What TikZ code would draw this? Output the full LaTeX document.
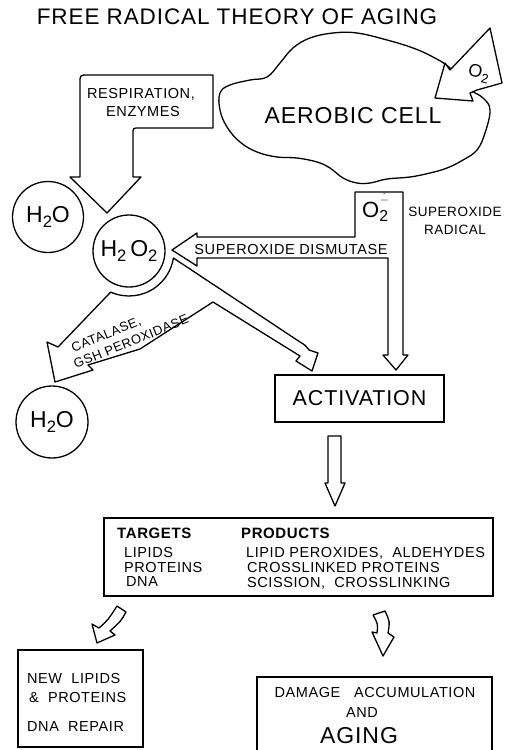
\documentclass[tikz,border=0pt]{standalone}
\usepackage{graphicx}
\usepackage{fontspec}
\setmainfont{Liberation Sans}[LetterSpace=4]
\newcommand{\fsz}[1]{\fontsize{#1}{#1}\selectfont}
\newcommand{\lowtwo}{\raisebox{-0.35ex}{\scalebox{0.72}{2}}}
\begin{document}
\begin{tikzpicture}[x=1pt,y=-1pt,
  blk/.style={draw,fill=white,line width=1.3pt,line join=round},
  txt/.style={inner sep=0pt,text depth=0pt,font=\fsz{14.5}},
  circ/.style={draw,circle,line width=1.3pt,fill=white,inner sep=0pt,minimum size=71pt,font=\fsz{23}},
  boxn/.style={draw,line width=1.3pt,inner sep=0pt}]
\useasboundingbox (0,0) rectangle (509,750);

% title
\node[txt,font=\fsz{22.5}] (title) at (237,17) {FREE RADICAL THEORY OF AGING};

% cloud
\draw[blk] plot[smooth cycle,tension=0.65] coordinates {(220,93) (230,85) (250,80) (267,77) (280,63) (293,48) (310,38) (333,33) (357,33) (387,40) (413,48) (433,57) (450,68) (468,88) (483,98) (490,110) (485,133) (477,150) (463,160) (447,168) (430,173) (410,177) (387,179) (370,183) (357,183) (343,178) (330,168) (317,162) (297,158) (277,157) (257,152) (240,142) (227,127) (220,110)};
\node[txt,font=\fsz{23}] (cell) at (353,115) {AEROBIC CELL};

% O2 arrow into the cell
\draw[blk] (490,28) -- (450,70) -- (445,63) -- (435,98) -- (473,101) -- (470,93) -- (477,90) -- (502,83) -- cycle;
\node[txt,font=\fsz{18},rotate=-12] (otwo) at (479,72) {O\lowtwo};

% respiration arrow
\draw[blk] (213,75) -- (213,128) -- (139,128) .. controls (133,128) .. (133,134) -- (133,177) -- (141,177) -- (107,213) -- (70,177) -- (80,177) -- (80,83) .. controls (80,75) .. (88,75) -- cycle;
\node[txt] (resp1) at (141,93) {RESPIRATION,};
\node[txt] (resp2) at (143,111) {ENZYMES};

% superoxide shape
\draw[blk] (355,192) -- (403,192) -- (403,355) -- (408,355) -- (396,370) -- (383,355) -- (388,355) -- (388,258) -- (197,258) -- (197,266) -- (172,250) -- (197,233) -- (197,237) -- (355,237) -- cycle;
\node[inner sep=0pt,font=\fsz{22},anchor=base west] (supo) at (362,217.5) {O\lowtwo\kern-8.5pt\raisebox{14.5pt}{\fsz{12}$\dot{-}$}};
\node[txt,font=\fsz{13.5}] (sr1) at (455,212) {SUPEROXIDE};
\node[txt,font=\fsz{13.5}] (sr2) at (455,230) {RADICAL};
\node[txt] (sod) at (291,249) {SUPEROXIDE DISMUTASE};

% H2O2 split arrows
\draw[blk] ([shift={(129,251)}]9:45) -- (300,342) .. controls (305,345) .. (309,350) -- (318,353) -- (312,371) -- (296,361) -- (300,356) -- (213,302) -- (140,349) -- (88,365) -- (93,370) -- (55,382) -- (47,342) -- (58,347) -- ([shift={(129,251)}]114:45) arc[start angle=114,end angle=9,radius=45] -- cycle;
\node[txt,rotate=22,align=left,font=\fsz{13}] (cat) at (128,334) {\hspace{4pt}CATALASE,\\[3pt]GSH PEROXIDASE};

% circles
\node[circ] (w1) at (48,217) {H\lowtwo O};
\node[circ,minimum size=72pt] (hp) at (129,251) {H\lowtwo\,O\lowtwo};
\node[circ,minimum size=72pt] (w2) at (52,422) {H\lowtwo O};

% activation
\node[boxn,minimum width=169pt,minimum height=47pt,font=\fsz{21.5}] (act) at (359.5,398.5) {ACTIVATION};
\draw[blk] (328,436) -- (341,436) -- (341,483) -- (345,483) -- (335,506) -- (325,483) -- (328,483) -- cycle;

% targets box
\node[boxn,minimum width=389pt,minimum height=78pt] (tgt) at (298.5,557) {};
\node[txt,anchor=west,font=\fsz{15}\bfseries] (th) at (117,533) {TARGETS};
\node[txt,anchor=west,font=\fsz{15}\bfseries] (ph) at (241,533) {PRODUCTS};
\node[txt,anchor=west] (t1) at (124,552) {LIPIDS};
\node[txt,anchor=west] (t2) at (124,567) {PROTEINS};
\node[txt,anchor=west] (t3) at (126,582) {DNA};
\node[txt,anchor=west] (p1) at (246,552) {LIPID PEROXIDES,\ \ ALDEHYDES};
\node[txt,anchor=west] (p2) at (247,567) {CROSSLINKED PROTEINS};
\node[txt,anchor=west] (p3) at (247,582) {SCISSION,\ \ CROSSLINKING};

% small arrows
\draw[blk] (117,606) -- (126,612) .. controls (121,621) .. (110,631) -- (115,635) -- (97,643) -- (92,624) -- (99,628) .. controls (108,620) .. (117,606);
\draw[blk] (373,615) -- (385,611) .. controls (390,622) .. (388,633) -- (394,637) -- (383,656) -- (372,632) -- (377,633) .. controls (378,624) .. (373,615);

% new lipids box
\node[boxn,minimum width=125pt,minimum height=97pt] (nl) at (80.5,698.5) {};
\node[txt,anchor=west] (n1) at (27,678) {NEW\ \ LIPIDS};
\node[txt,anchor=west] (n2) at (29,697) {\&\ \ PROTEINS};
\node[txt,anchor=west] (n3) at (27,727) {DNA\ \ REPAIR};

% damage box (open at bottom)
\draw[line width=1.3pt] (257,755) -- (257,677) -- (492,677) -- (492,755);
\node[txt] (d1) at (375,692) {DAMAGE\ \ \ ACCUMULATION};
\node[txt] (d2) at (362,713) {AND};
\node[txt,font=\fsz{23}] (d3) at (359,735) {AGING};
\end{tikzpicture}
\end{document}
